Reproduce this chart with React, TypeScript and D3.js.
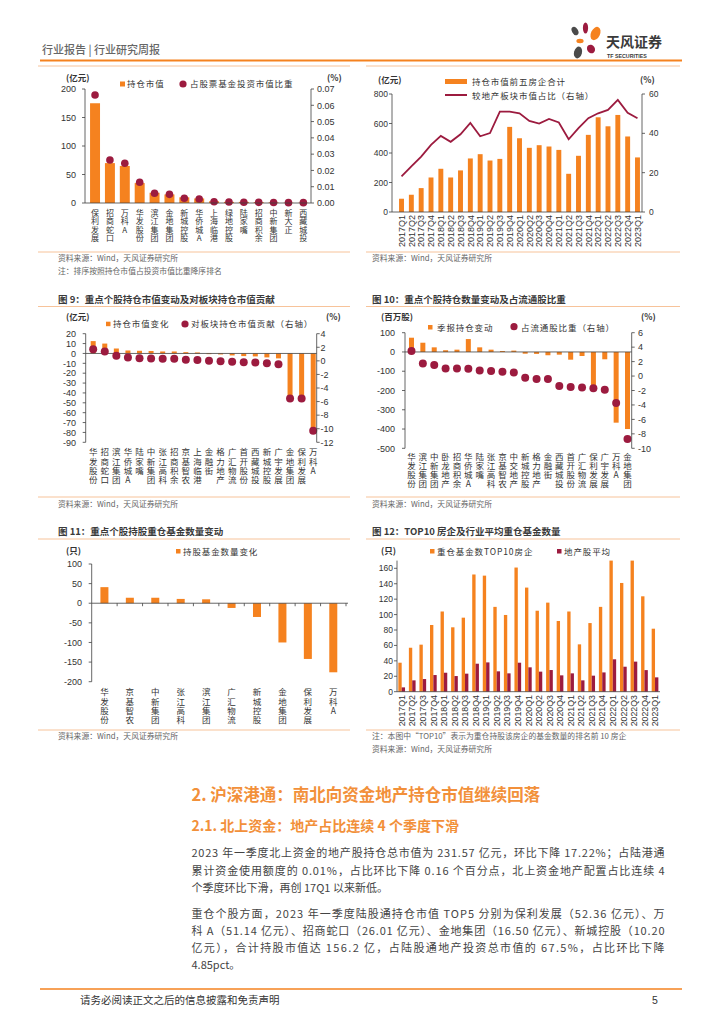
import React from "react";
import * as d3 from "d3";

const ORANGE = "#F5821F";
const CRIMSON = "#9C1B3F";
const AXIS = "#404040";
const TXT = "#333";
const SEP = "#F7C39A";
const CJK = "'Noto Sans CJK SC', 'Noto Sans', sans-serif";
const NUM = "'Liberation Sans', Arial, sans-serif";

// top-left: holdings by stock
const holdNames = ["保利发展", "招商蛇口", "万科A", "华发股份", "滨江集团", "金地集团", "新城控股", "华侨城A", "上海临港", "绿地控股", "陆家嘴", "招商积余", "中新集团", "新大正", "西藏城投"];
const holdValues = [175, 70, 65, 35, 18, 15, 10, 8, 3, 2, 2, 1.5, 1, 0.5, 0.5];
const holdShares = [0.0663, 0.0264, 0.0244, 0.0127, 0.006, 0.0053, 0.0029, 0.0025, 0.0008, 0.0006, 0.0005, 0.0004, 0.0003, 0.0002, 0.0002];

// top-right: top5 holdings & sector share
const quarters = ["2017Q1", "2017Q2", "2017Q3", "2017Q4", "2018Q1", "2018Q2", "2018Q3", "2018Q4", "2019Q1", "2019Q2", "2019Q3", "2019Q4", "2020Q1", "2020Q2", "2020Q3", "2020Q4", "2021Q1", "2021Q2", "2021Q3", "2021Q4", "2022Q1", "2022Q2", "2022Q3", "2022Q4", "2023Q1"];
const top5Values = [90, 117, 162, 234, 293, 234, 282, 363, 392, 349, 360, 577, 500, 435, 453, 444, 421, 259, 381, 523, 642, 581, 658, 512, 370];
const sectorShare = [18.1, 23.2, 28.2, 34.1, 38.7, 35.7, 39.5, 45.3, 38.5, 40.1, 51.0, 51.0, 50.2, 46.3, 45.0, 47.3, 45.5, 37.0, 42.6, 47.7, 50.2, 51.9, 57.0, 50.5, 47.7];

// fig 9
const f9Names = ["华发股份", "招商蛇口", "滨江集团", "华侨城A", "陆家嘴", "中新集团", "张江高科", "招商积余", "京基智农", "上海临港", "金融街", "格力地产", "广汇物流", "首开股份", "西藏城投", "新城控股", "广宇发展", "金地集团", "保利发展", "万科A"];
const f9Change = [12.5, 10, 5, 3, 2.7, 2.5, 2, 2, 1.3, 1, -0.7, -1, -2, -2.7, -3, -4, -5, -47, -47, -78];
const f9Contrib = [1.72, 1.37, 0.74, 0.49, 0.39, 0.34, 0.3, 0.3, 0.15, 0.13, 0, -0.05, -0.15, -0.2, -0.25, -0.35, -0.5, -5.55, -5.55, -10.3];

// fig 10
const f10Names = ["华发股份", "滨江集团", "中新集团", "卧龙地产", "招商积余", "华侨城A", "陆家嘴", "张江高科", "京基智农", "中交地产", "新城控股", "格力地产", "金融街", "西藏城投", "首开股份", "广汇物流", "保利发展", "广宇发展", "万科A", "金地集团"];
const f10Change = [74, 48, 24, 9, 12, 67, 24, 12, 5, 7, -9, -10, -17, -14, -40, -21, -178, -38, -367, -400];
const f10Ratio = [3.46, 1.75, 1.52, 1.06, 1.06, 1.0, 0.78, 0.69, 0.6, 0.5, -0.23, -0.41, -0.41, -1.38, -1.52, -1.57, -1.7, -1.89, -3.73, -8.71];

// fig 11
const f11Names = ["华发股份", "京基智农", "中新集团", "张江高科", "滨江集团", "广汇物流", "新城控股", "金地集团", "保利发展", "万科A"];
const f11Change = [41, 14, 14, 11, 10, -12, -35, -100, -142, -176];

// fig 12
const top10Funds = [37.6, 57, 61, 86.5, 104, 83.5, 96, 152, 150.5, 110, 99.5, 161, 135, 105, 115.5, 91.7, 104, 61.4, 89, 110, 170, 141, 170, 123.7, 81.7];
const avgFunds = [5.6, 14.7, 16.4, 21.6, 24.6, 20.3, 23.4, 36.3, 38, 26.4, 23.8, 37.6, 31.6, 26, 28.1, 21.2, 23.8, 14.7, 20.8, 25, 42, 32.4, 39, 28, 18.6];

const para1 = [
  "2023 年一季度北上资金的地产股持仓总市值为 231.57 亿元，环比下降 17.22%；占陆港通",
  "累计资金使用额度的 0.01%，占比环比下降 0.16 个百分点，北上资金地产配置占比连续 4",
  "个季度环比下滑，再创 17Q1 以来新低。",
];
const para2 = [
  "重仓个股方面，2023 年一季度陆股通持仓市值 TOP5 分别为保利发展（52.36 亿元）、万",
  "科 A（51.14 亿元）、招商蛇口（26.01 亿元）、金地集团（16.50 亿元）、新城控股（10.20",
  "亿元），合计持股市值达 156.2 亿，占陆股通地产投资总市值的 67.5%，占比环比下降",
  "4.85pct。",
];

type Lin = d3.ScaleLinear<number, number>;

function YAxis({scale, ticks, x, labelX, side, fmt, size = 9}: {scale: Lin; ticks: number[]; x: number; labelX: number; side: "left" | "right"; fmt?: (v: number) => string; size?: number}) {
  const [r0, r1] = scale.range();
  const f = fmt || ((v: number) => String(v));
  return (
    <g>
      <line x1={x} x2={x} y1={r0} y2={r1} stroke={AXIS} strokeWidth={0.8} />
      {ticks.map((t) => (
        <g key={t}>
          <line x1={x} x2={side === "left" ? x - 3 : x + 3} y1={scale(t)} y2={scale(t)} stroke={AXIS} strokeWidth={0.8} />
          <text x={labelX} y={scale(t) + size * 0.36} textAnchor={side === "left" ? "end" : "start"} fontFamily={NUM} fontSize={size} fill={TXT}>
            {f(t)}
          </text>
        </g>
      ))}
    </g>
  );
}

// category names stacked top-to-bottom, one character under another
function VLabel({x, y, text, size, step}: {x: number; y: number; text: string; size: number; step: number}) {
  return (
    <text
      x={x}
      y={y}
      fontFamily={CJK}
      fontSize={size}
      fill={TXT}
      letterSpacing={step - size}
      style={{writingMode: "vertical-rl", textOrientation: "upright"} as React.CSSProperties}
    >
      {text}
    </text>
  );
}

function RLabel({x, y, text, size = 8.8}: {x: number; y: number; text: string; size?: number}) {
  return (
    <text transform={`translate(${x + size * 0.36},${y}) rotate(-90)`} textAnchor="end" fontFamily={NUM} fontSize={size} fill={TXT}>
      {text}
    </text>
  );
}

function Legend({x, y, text}: {x: number; y: number; text: string}) {
  return (
    <text x={x} y={y} fontFamily={CJK} fontSize={8.5} letterSpacing={0.9} fill={TXT}>
      {text}
    </text>
  );
}

function Unit({x, y, text}: {x: number; y: number; text: string}) {
  return (
    <text x={x} y={y} fontFamily={CJK} fontSize={8.5} fontWeight="bold" fill={TXT}>
      {text}
    </text>
  );
}

function Title({x, y, text}: {x: number; y: number; text: string}) {
  return (
    <text x={x} y={y} fontFamily={CJK} fontSize={9.5} fontWeight="bold" fill="#3a3a3a">
      {text}
    </text>
  );
}

function Note({x, y, text}: {x: number; y: number; text: string}) {
  return (
    <text x={x} y={y} fontFamily={CJK} fontSize={7.8} fill="#666">
      {text}
    </text>
  );
}

function Sep({x1, x2, y}: {x1: number; x2: number; y: number}) {
  return <line x1={x1} x2={x2} y1={y} y2={y} stroke={SEP} strokeWidth={1} />;
}

const SRC = "资料来源：Wind，天风证券研究所";

function Chart1() {
  const x = d3.scaleBand<string>().domain(holdNames).range([87.6, 310.8]).paddingInner(0.33).paddingOuter(0.165);
  const yL = d3.scaleLinear().domain([0, 200]).range([203, 89]);
  const yR = d3.scaleLinear().domain([0, 0.07]).range([203, 89]);
  const bw = x.bandwidth();
  return (
    <g>
      <Sep x1={38} x2={350} y={66} />
      <Unit x={66} y={81} text="(亿元)" />
      <Unit x={327} y={81} text="(%)" />
      <rect x={120} y={81.5} width={5} height={5} fill={ORANGE} />
      <Legend x={127} y={87} text="持仓市值" />
      <circle cx={183} cy={84} r={3.6} fill={CRIMSON} />
      <Legend x={190} y={87} text="占股票基金投资市值比重" />
      {holdNames.map((n, i) => (
        <rect key={n} x={x(n)} y={yL(holdValues[i])} width={bw} height={yL(0) - yL(holdValues[i])} fill={ORANGE} />
      ))}
      {holdNames.map((n, i) => (
        <circle key={n} cx={(x(n) || 0) + bw / 2} cy={yR(holdShares[i])} r={3.8} fill={CRIMSON} />
      ))}
      <line x1={85} x2={311} y1={yL(0)} y2={yL(0)} stroke={AXIS} strokeWidth={0.8} />
      <YAxis scale={yL} ticks={[0, 50, 100, 150, 200]} x={85} labelX={76} side="left" />
      <YAxis scale={yR} ticks={[0, 0.01, 0.02, 0.03, 0.04, 0.05, 0.06, 0.07]} x={311} labelX={317} side="right" fmt={d3.format(".2f")} />
      {holdNames.map((n) => (
        <VLabel key={n} x={(x(n) || 0) + bw / 2} y={209} text={n} size={8} step={8.4} />
      ))}
      <Sep x1={38} x2={350} y={252} />
      <Note x={58} y={261} text={SRC} />
      <Note x={58} y={273.5} text="注：排序按照持仓市值占投资市值比重降序排名" />
    </g>
  );
}

function Chart2() {
  const x = d3.scaleBand<string>().domain(quarters).range([396.6, 642.4]).paddingInner(0.5).paddingOuter(0.25);
  const yL = d3.scaleLinear().domain([0, 800]).range([212, 94]);
  const yR = d3.scaleLinear().domain([0, 60]).range([212, 94]);
  const bw = x.bandwidth();
  const cx = (q: string) => (x(q) || 0) + bw / 2;
  const line = d3
    .line<number>()
    .x((_, i) => cx(quarters[i]))
    .y((d) => yR(d));
  return (
    <g>
      <Sep x1={366} x2={680} y={66} />
      <Unit x={378} y={83} text="(亿元)" />
      <Unit x={640} y={83} text="(%)" />
      <rect x={445} y={79} width={22} height={5} fill={ORANGE} />
      <Legend x={472} y={85} text="持仓市值前五房企合计" />
      <line x1={445} x2={467} y1={95} y2={95} stroke={CRIMSON} strokeWidth={2} />
      <Legend x={472} y={98.5} text="较地产板块市值占比（右轴）" />
      {quarters.map((q, i) => (
        <rect key={q} x={x(q)} y={yL(top5Values[i])} width={bw} height={yL(0) - yL(top5Values[i])} fill={ORANGE} />
      ))}
      <path d={line(sectorShare) || ""} fill="none" stroke={CRIMSON} strokeWidth={1.8} />
      <line x1={392} x2={642} y1={yL(0)} y2={yL(0)} stroke={AXIS} strokeWidth={0.8} />
      <YAxis scale={yL} ticks={[0, 200, 400, 600, 800]} x={392} labelX={388} side="left" size={8.5} />
      <YAxis scale={yR} ticks={[0, 20, 40, 60]} x={642} labelX={649} side="right" size={8.5} />
      {quarters.map((q) => (
        <RLabel key={q} x={cx(q)} y={215} text={q} size={9} />
      ))}
      <Sep x1={366} x2={680} y={252} />
      <Note x={372} y={261} text={SRC} />
    </g>
  );
}

function Chart3() {
  const x = d3.scaleBand<string>().domain(f9Names).range([87.4, 319]).paddingInner(0.568).paddingOuter(0.284);
  const yL = d3.scaleLinear().domain([-90, 20]).range([442.3, 333.7]);
  const yR = d3.scaleLinear().domain([-12, 4]).range([442.3, 333.7]);
  const bw = x.bandwidth();
  const cx = (n: string) => (x(n) || 0) + bw / 2;
  return (
    <g>
      <Title x={58} y={302.5} text="图 9：重点个股持仓市值变动及对板块持仓市值贡献" />
      <Sep x1={38} x2={350} y={306.5} />
      <Unit x={66} y={320} text="(亿元)" />
      <Unit x={326} y={320} text="(%)" />
      <rect x={106} y={321.7} width={4.5} height={4.5} fill={ORANGE} />
      <Legend x={113} y={327} text="持仓市值变化" />
      <circle cx={185} cy={324} r={3.6} fill={CRIMSON} />
      <Legend x={191} y={327} text="对板块持仓市值贡献（右轴）" />
      {f9Names.map((n, i) => {
        const v = f9Change[i];
        return <rect key={n} x={x(n)} y={Math.min(yL(v), yL(0))} width={bw} height={Math.abs(yL(v) - yL(0))} fill={ORANGE} />;
      })}
      <line x1={85.7} x2={316.7} y1={yL(0)} y2={yL(0)} stroke={AXIS} strokeWidth={0.8} />
      {f9Names.map((n, i) => (
        <circle key={n} cx={cx(n)} cy={yR(f9Contrib[i])} r={4} fill={CRIMSON} />
      ))}
      <YAxis scale={yL} ticks={d3.range(-90, 21, 10)} x={85.7} labelX={76} side="left" />
      <YAxis scale={yR} ticks={d3.range(-12, 5, 2)} x={316.7} labelX={320.5} side="right" />
      {f9Names.map((n) => (
        <VLabel key={n} x={cx(n)} y={448} text={n} size={8.5} step={9.2} />
      ))}
      <Sep x1={38} x2={350} y={497} />
      <Note x={58} y={506.5} text={SRC} />
    </g>
  );
}

function Chart4() {
  const x = d3.scaleBand<string>().domain(f10Names).range([405.8, 633.2]).paddingInner(0.56).paddingOuter(0.28);
  const yL = d3.scaleLinear().domain([-500, 100]).range([448.3, 332.7]);
  const yR = d3.scaleLinear().domain([-10, 6]).range([448.3, 332.7]);
  const bw = x.bandwidth();
  const cx = (n: string) => (x(n) || 0) + bw / 2;
  return (
    <g>
      <Title x={372} y={302.5} text="图 10：重点个股持仓数量变动及占流通股比重" />
      <Sep x1={366} x2={680} y={306.5} />
      <Unit x={381} y={320} text="(百万股)" />
      <Unit x={641} y={320} text="(%)" />
      <rect x={428} y={325} width={4.5} height={4.5} fill={ORANGE} />
      <Legend x={437} y={330.5} text="季报持仓变动" />
      <circle cx={514} cy={326.7} r={3.6} fill={CRIMSON} />
      <Legend x={521} y={330.5} text="占流通股比重（右轴）" />
      {f10Names.map((n, i) => {
        const v = f10Change[i];
        return <rect key={n} x={x(n)} y={Math.min(yL(v), yL(0))} width={bw} height={Math.abs(yL(v) - yL(0))} fill={ORANGE} />;
      })}
      <line x1={405} x2={631.7} y1={yL(0)} y2={yL(0)} stroke={AXIS} strokeWidth={0.8} />
      {f10Names.map((n, i) => (
        <circle key={n} cx={cx(n)} cy={yR(f10Ratio[i])} r={4} fill={CRIMSON} />
      ))}
      <YAxis scale={yL} ticks={d3.range(-500, 101, 100)} x={405} labelX={395} side="left" />
      <YAxis scale={yR} ticks={d3.range(-10, 7, 2)} x={631.7} labelX={638} side="right" />
      {f10Names.map((n) => (
        <VLabel key={n} x={cx(n)} y={453} text={n} size={8.5} step={8.8} />
      ))}
      <Sep x1={366} x2={680} y={497} />
      <Note x={372} y={506.5} text={SRC} />
    </g>
  );
}

function Chart5() {
  const x = d3.scaleBand<string>().domain(f11Names).range([91.7, 346]).paddingInner(0.685).paddingOuter(0.3425);
  const y = d3.scaleLinear().domain([-200, 100]).range([681.7, 564]);
  const bw = x.bandwidth();
  const cx = (n: string) => (x(n) || 0) + bw / 2;
  const step = x.step();
  return (
    <g>
      <Title x={58} y={535} text="图 11：重点个股持股重仓基金数量变动" />
      <Sep x1={38} x2={350} y={539} />
      <Unit x={66} y={553.5} text="(只)" />
      <rect x={176} y={549} width={4.5} height={4.5} fill={ORANGE} />
      <Legend x={183} y={554.5} text="持股基金数量变化" />
      {f11Names.map((n, i) => {
        const v = f11Change[i];
        return <rect key={n} x={x(n)} y={Math.min(y(v), y(0))} width={bw} height={Math.abs(y(v) - y(0))} fill={ORANGE} />;
      })}
      <line x1={91.7} x2={348} y1={y(0)} y2={y(0)} stroke={AXIS} strokeWidth={0.8} />
      {f11Names.map((n, i) => (
        <line key={n} x1={91.7 + (i + 1) * step} x2={91.7 + (i + 1) * step} y1={y(0)} y2={y(0) + 3} stroke={AXIS} strokeWidth={0.8} />
      ))}
      <YAxis scale={y} ticks={d3.range(-200, 101, 50)} x={91.7} labelX={82} side="left" />
      {f11Names.map((n) => (
        <VLabel key={n} x={cx(n)} y={688} text={n} size={8.5} step={9.2} />
      ))}
      <Sep x1={38} x2={350} y={730} />
      <Note x={58} y={739} text={SRC} />
    </g>
  );
}

function Chart6() {
  const x = d3.scaleBand<string>().domain(quarters).range([396.4, 660.3]).paddingInner(0.365).paddingOuter(0.1825);
  const inner = d3.scaleBand<string>().domain(["top", "avg"]).range([0, x.bandwidth()]);
  const y = d3.scaleLinear().domain([0, 170]).range([691.7, 560.6]);
  const bw = inner.bandwidth();
  return (
    <g>
      <Title x={372} y={535} text="图 12：TOP10 房企及行业平均重仓基金数量" />
      <Sep x1={366} x2={680} y={539} />
      <Unit x={381} y={553.5} text="(只)" />
      <rect x={430} y={549} width={4.5} height={4.5} fill={ORANGE} />
      <Legend x={437} y={554.5} text="重仓基金数TOP10房企" />
      <rect x={557} y={549} width={4.5} height={4.5} fill={CRIMSON} />
      <Legend x={564} y={554.5} text="地产股平均" />
      {quarters.map((q, i) => (
        <g key={q}>
          <rect x={(x(q) || 0) + (inner("top") || 0)} y={y(top10Funds[i])} width={bw} height={y(0) - y(top10Funds[i])} fill={ORANGE} />
          <rect x={(x(q) || 0) + (inner("avg") || 0)} y={y(avgFunds[i])} width={bw} height={y(0) - y(avgFunds[i])} fill={CRIMSON} />
        </g>
      ))}
      <line x1={397} x2={660} y1={y(0)} y2={y(0)} stroke={AXIS} strokeWidth={0.8} />
      <YAxis scale={y} ticks={d3.range(0, 161, 20)} x={397} labelX={393} side="left" size={8.5} />
      {quarters.map((q) => (
        <RLabel key={q} x={(x(q) || 0) + x.bandwidth() / 2} y={695} text={q} />
      ))}
      <Sep x1={366} x2={680} y={730} />
      <Note x={372} y={739} text="注：本图中“TOP10”表示为重仓持股该房企的基金数量的排名前 10 房企" />
      <Note x={372} y={751.5} text={SRC} />
    </g>
  );
}

function Header() {
  return (
    <g>
      <text x={42} y={54} fontFamily={CJK} fontSize={11} fontWeight={500} fill="#666">
        行业报告 | 行业研究周报
      </text>
      <line x1={40} x2={682} y1={60.5} y2={60.5} stroke={ORANGE} strokeWidth={2} />
      <ellipse cx={575} cy={31} rx={3} ry={4.5} transform="rotate(-30 575 31)" fill="#4a4a4a" />
      <ellipse cx={585.5} cy={28} rx={2.6} ry={5.5} fill={CRIMSON} />
      <ellipse cx={595.5} cy={33.5} rx={4.5} ry={7} transform="rotate(25 595.5 33.5)" fill={ORANGE} />
      <ellipse cx={580} cy={41} rx={3.6} ry={2.2} fill={ORANGE} />
      <ellipse cx={591} cy={49} rx={3.8} ry={4.5} transform="rotate(-35 591 49)" fill={CRIMSON} />
      <ellipse cx={578} cy={52.5} rx={4} ry={6} transform="rotate(15 578 52.5)" fill="#4a4a4a" />
      <text x={606} y={47} fontFamily={CJK} fontSize={14} fontWeight="bold" fill="#3a3a3a">
        天风证券
      </text>
      <text x={607} y={57.5} fontFamily={NUM} fontSize={5.3} fontWeight="bold" fill="#3a3a3a">
        TF SECURITIES
      </text>
    </g>
  );
}

function Body() {
  const W = 473;
  return (
    <g>
      <text x={191.5} y={801} fontFamily={CJK} fontSize={16.5} fontWeight="bold" fill="#F2903A">
        2. 沪深港通：南北向资金地产持仓市值继续回落
      </text>
      <text x={191.5} y={830.7} fontFamily={CJK} fontSize={14} fontWeight="bold" fill="#F2903A">
        2.1. 北上资金：地产占比连续 4 个季度下滑
      </text>
      {para1.map((l, i) => (
        <text key={l} x={191.5} y={857.3 + i * 17.2} fontFamily={CJK} fontSize={11} fill="#444" {...(i < para1.length - 1 ? {textLength: W, lengthAdjust: "spacing"} : {})}>
          {l}
        </text>
      ))}
      {para2.map((l, i) => (
        <text key={l} x={191.5} y={918 + i * 17} fontFamily={CJK} fontSize={11} fill="#444" {...(i < para2.length - 1 ? {textLength: W, lengthAdjust: "spacing"} : {})}>
          {l}
        </text>
      ))}
      <line x1={40} x2={682} y1={989} y2={989} stroke={ORANGE} strokeWidth={1.5} />
      <text x={80} y={1003.5} fontFamily={CJK} fontSize={10.5} fill={TXT}>
        请务必阅读正文之后的信息披露和免责声明
      </text>
      <text x={652} y={1003.5} fontFamily={NUM} fontSize={10.5} fill={TXT}>
        5
      </text>
    </g>
  );
}

export default function App() {
  return (
    <svg width={724} height={1024} viewBox="0 0 724 1024" style={{position: "absolute", left: 0, top: 0, background: "#fff"}}>
      <Header />
      <Chart1 />
      <Chart2 />
      <Chart3 />
      <Chart4 />
      <Chart5 />
      <Chart6 />
      <Body />
    </svg>
  );
}
